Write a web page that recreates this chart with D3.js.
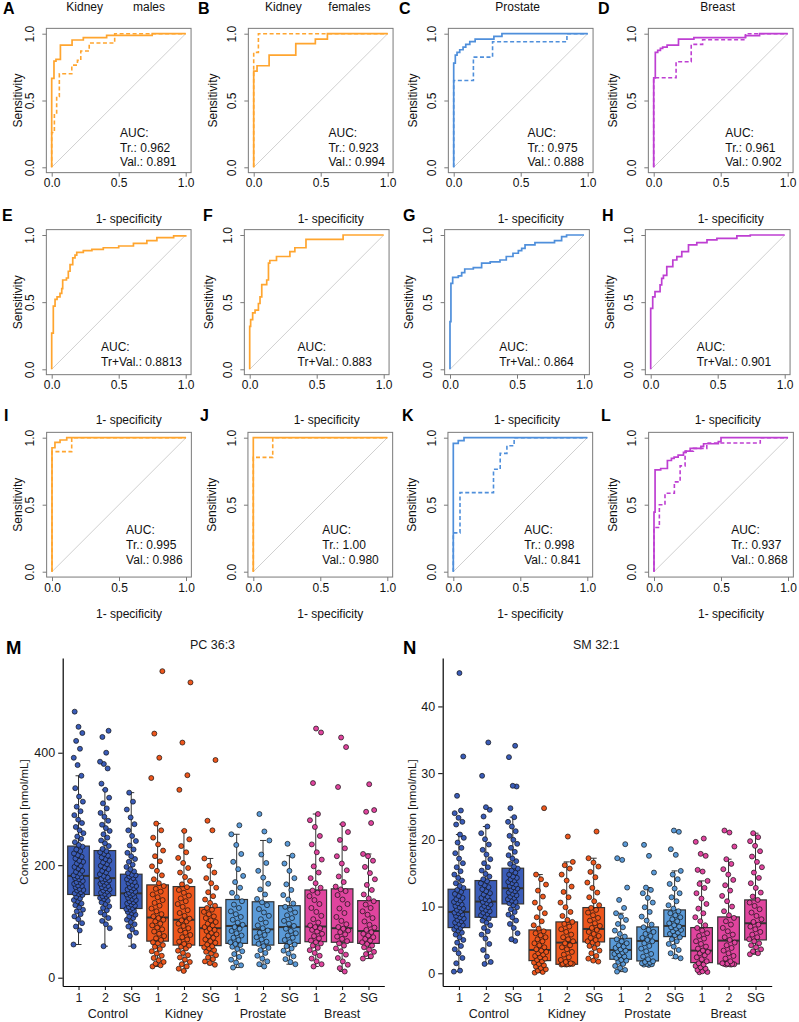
<!DOCTYPE html>
<html><head><meta charset="utf-8">
<script src="https://cdn.jsdelivr.net/npm/d3@7"></script>
<style>
body{margin:0;background:#fff}
svg text{font-family:"Liberation Sans",Arial,Helvetica,sans-serif}
</style>
</head><body>
<svg id="c" width="799" height="1022"></svg>
<script>
// ---------------- ROC data ([1-specificity, sensitivity] corner points) ----------------
const rocA_tr  = [[0,0],[0,0.666],[0.017,0.795],[0.032,0.808],[0.065,0.915],[0.152,0.953],[0.236,0.97],[0.41,0.988],[0.75,1],[1,1]];
const rocA_val = [[0,0],[0,0.26],[0.02,0.40],[0.037,0.53],[0.057,0.70],[0.15,0.765],[0.192,0.80],[0.217,0.87],[0.28,0.93],[0.47,1],[1,1]];
const rocB_tr  = [[0,0],[0,0.72],[0.025,0.76],[0.115,0.84],[0.314,0.925],[0.46,0.96],[0.55,1],[1,1]];
const rocB_val = [[0,0],[0,0.86],[0.035,1],[1,1]];
const rocC_tr  = [[0,0],[0,0.78],[0.012,0.84],[0.025,0.86],[0.045,0.88],[0.07,0.90],[0.09,0.92],[0.12,0.94],[0.16,0.96],[0.3,0.98],[0.36,1],[1,1]];
const rocC_val = [[0,0],[0,0.65],[0.147,0.825],[0.29,0.94],[0.845,1],[1,1]];
const rocD_tr  = [[0,0],[0,0.67],[0.012,0.86],[0.03,0.875],[0.05,0.89],[0.067,0.90],[0.1,0.915],[0.185,0.96],[0.3,0.97],[0.685,0.985],[0.79,1],[1,1]];
const rocD_val = [[0,0],[0,0.67],[0.167,0.79],[0.28,0.92],[0.365,0.955],[0.685,1],[1,1]];
const rocE = [[0,0],[0,0.27],[0.012,0.47],[0.025,0.52],[0.04,0.54],[0.062,0.565],[0.075,0.60],[0.082,0.665],[0.11,0.68],[0.124,0.73],[0.137,0.78],[0.157,0.83],[0.174,0.85],[0.187,0.87],[0.236,0.883],[0.3,0.893],[0.385,0.905],[0.5,0.918],[0.61,0.938],[0.71,0.958],[0.785,0.98],[0.91,0.993],[1,1]];
const rocF = [[0,0],[0,0.32],[0.007,0.37],[0.022,0.42],[0.04,0.44],[0.065,0.49],[0.077,0.54],[0.09,0.63],[0.127,0.665],[0.14,0.79],[0.15,0.81],[0.2,0.84],[0.3,0.876],[0.337,0.905],[0.42,0.968],[0.697,1],[1,1]];
const rocG = [[0,0],[0,0.355],[0.007,0.64],[0.02,0.685],[0.062,0.695],[0.087,0.72],[0.11,0.747],[0.174,0.757],[0.236,0.79],[0.3,0.80],[0.373,0.814],[0.42,0.84],[0.47,0.864],[0.51,0.883],[0.535,0.90],[0.56,0.926],[0.634,0.943],[0.78,0.958],[0.833,0.988],[0.87,1],[1,1]];
const rocH = [[0,0],[0,0.454],[0.015,0.54],[0.032,0.578],[0.07,0.628],[0.082,0.677],[0.095,0.70],[0.12,0.764],[0.165,0.814],[0.195,0.839],[0.232,0.876],[0.282,0.926],[0.344,0.943],[0.42,0.963],[0.494,0.975],[0.643,0.993],[0.743,1],[1,1]];
const rocI_tr  = [[0,0],[0,0.925],[0.022,0.965],[0.06,0.983],[0.11,1],[1,1]];
const rocI_val = [[0,0],[0,0.896],[0.147,1],[1,1]];
const rocJ_tr  = [[0,0],[0,1],[1,1]];
const rocJ_val = [[0,0],[0,0.853],[0.145,1],[1,1]];
const rocK_tr  = [[0,0],[0,0.958],[0.037,0.978],[0.08,1],[1,1]];
const rocK_val = [[0,0],[0,0.29],[0.05,0.59],[0.3,0.764],[0.35,0.883],[0.4,0.94],[0.454,1],[1,1]];
const rocL_tr  = [[0,0],[0,0.445],[0.008,0.76],[0.05,0.77],[0.1,0.83],[0.13,0.845],[0.15,0.855],[0.18,0.87],[0.22,0.89],[0.24,0.90],[0.27,0.92],[0.35,0.935],[0.37,0.955],[0.48,0.97],[0.5,1],[1,1]];
const rocL_val = [[0,0],[0,0.33],[0.04,0.5],[0.082,0.585],[0.152,0.67],[0.195,0.79],[0.232,0.9],[0.294,0.92],[0.394,0.96],[0.793,1],[1,1]];

const rocLetters = ["A","B","C","D","E","F","G","H","I","J","K","L"];
const rocTitles = ["Kidney         males","Kidney        females","Prostate","Breast"];
const rocXLabel = "1- specificity";
const rocYLabel = "Sensitivity";
const rocTicks = [0, 0.5, 1];
const aucLabels = [
  ["AUC:","Tr.: 0.962","Val.: 0.891"],["AUC:","Tr.: 0.923","Val.: 0.994"],["AUC:","Tr.: 0.975","Val.: 0.888"],["AUC:","Tr.: 0.961","Val.: 0.902"],
  ["AUC:","Tr+Val.: 0.8813"],["AUC:","Tr+Val.: 0.883"],["AUC:","Tr+Val.: 0.864"],["AUC:","Tr+Val.: 0.901"],
  ["AUC:","Tr.: 0.995","Val.: 0.986"],["AUC:","Tr.: 1.00","Val.: 0.980"],["AUC:","Tr.: 0.998","Val.: 0.841"],["AUC:","Tr.: 0.937","Val.: 0.868"]
];
const aucX = [0.51,0.558,0.55,0.534, 0.368,0.357,0.368,0.344, 0.553,0.515,0.529,0.576];

// ---------------- Box plot data ----------------
const boxCats = ["Control 1","Control 2","Control SG","Kidney 1","Kidney 2","Kidney SG","Prostate 1","Prostate 2","Prostate SG","Breast 1","Breast 2","Breast SG"];
const boxTickLabels = ["1","2","SG","1","2","SG","1","2","SG","1","2","SG"];
const groupNames = ["Control","Kidney","Prostate","Breast"];

// PC 36:3 (nmol/mL): box statistics
const pcLo  = [59,56,56,20,12,23,18,20,24,20,11,34];
const pcQ1  = [148,146,123,65,58,57,61,58,61,64,63,61];
const pcMed = [181,177,150,107,103,88,92,86,90,91,88,83];
const pcQ3  = [234,226,184,165,162,125,139,135,128,156,158,137];
const pcHi  = [359,334,329,274,261,212,255,244,217,291,273,220];
const pcTicks = [0,200,400];
// PC 36:3 individual points
const pc_C1 = [59,84,91,97,104,109,113,118,121,125,129,132,136,138,141,144,147,149,150,152,155,156,158,161,163,164,167,169,170,172,175,177,179,180,182,185,188,190,194,197,199,203,206,208,212,215,218,221,225,228,233,236,241,247,251,257,262,268,275,281,289,296,304,313,322,337,359,378,391,407,421,435,446,473];
const pc_C2 = [56,88,95,101,106,112,116,120,124,127,131,134,137,140,142,144,145,147,149,151,153,155,157,159,161,163,165,167,169,171,173,175,176,178,181,184,187,190,193,196,199,202,205,208,211,214,217,220,223,225,229,234,239,244,249,255,261,266,272,279,286,293,301,310,320,334,345,372,380,384,400,428,439];
const pc_CSG = [56,74,80,86,91,95,99,103,106,109,112,115,117,119,121,122,124,126,128,130,132,134,136,138,140,142,144,146,148,149,151,153,155,157,159,161,163,165,168,170,172,175,177,180,182,183,186,189,193,197,201,206,211,216,222,228,235,243,252,262,273,285,299,313,329];
const pc_K1 = [20,22,25,28,31,35,39,43,47,51,55,58,61,63,67,70,74,78,82,86,89,93,96,100,103,106,109,113,118,123,128,133,138,143,148,153,158,163,168,175,182,190,198,207,216,226,237,249,262,274,355,391,434,545];
const pc_K2 = [12,16,20,24,28,32,36,40,44,48,52,55,57,60,64,68,72,76,80,84,88,92,96,100,102,105,110,115,120,126,131,136,141,146,151,156,161,166,172,179,187,195,204,213,223,234,246,261,334,360,418,525];
const pc_KSG = [23,26,29,33,36,40,43,46,49,52,54,56,59,62,65,68,71,74,77,80,83,85,87,90,93,96,99,102,106,109,113,117,121,124,128,133,139,145,152,160,168,177,187,199,212,262,279,387];
const pc_P1 = [18,22,27,32,37,42,47,51,55,58,60,63,67,71,75,79,83,87,90,94,98,103,108,113,118,124,130,136,143,151,160,170,181,193,206,220,236,255,271];
const pc_P2 = [20,24,29,34,39,44,49,53,56,60,64,68,72,76,80,84,88,93,98,104,110,116,122,129,134,140,148,157,167,178,190,204,219,244,260,291];
const pc_PSG = [24,28,33,38,43,48,52,56,59,63,67,71,75,79,83,87,92,96,101,106,111,116,121,126,132,139,147,156,166,177,190,203,217,238];
const pc_B1 = [20,24,29,34,39,44,49,53,57,61,63,66,70,74,78,82,85,88,90,93,98,104,110,117,124,131,138,145,151,155,160,168,177,187,198,210,223,237,252,268,280,291,346,436,443];
const pc_B2 = [11,17,23,29,35,41,47,52,57,61,65,69,73,77,81,84,87,90,95,101,108,115,123,131,139,147,154,157,162,170,180,191,203,216,230,245,259,273,339,410,427];
const pc_BSG = [34,38,42,46,50,54,57,60,63,66,69,72,75,78,81,85,89,94,100,106,112,118,124,130,136,141,148,156,165,175,186,197,208,216,220,275,295,298,344];

// SM 32:1 (nmol/mL): box statistics
const smLo  = [0.25,1.4,4.85,0.1,1.3,1.75,0.25,1.25,2.25,0.15,1.3,2.85];
const smQ1  = [6.85,8.4,10.4,1.9,1.35,4.7,2.1,1.85,5.5,1.6,1.4,5.0];
const smMed = [9.2,10.75,12.75,3.5,4.6,6.65,3.5,4.85,7.1,3.4,4.9,7.5];
const smQ3  = [12.6,13.9,15.75,6.5,7.7,9.85,5.25,6.95,9.5,6.85,8.45,11.0];
const smHi  = [20.8,22.0,23.4,14.8,16.7,17.25,9.0,12.85,15.35,13.85,17.1,21.0];
const smTicks = [0,10,20,30,40];
// SM 32:1 individual points
const sm_C1 = [0.25,0.4,1.5,2.3,3.0,3.6,4.1,4.6,5.0,5.4,5.8,6.1,6.4,6.6,6.8,7.0,7.2,7.4,7.6,7.8,8.0,8.2,8.4,8.6,8.8,9.0,9.1,9.3,9.5,9.7,9.9,10.1,10.3,10.5,10.7,10.9,11.1,11.3,11.6,11.9,12.2,12.5,12.8,13.1,13.5,13.9,14.3,14.8,15.3,15.9,16.5,17.2,18.0,18.8,19.6,20.3,20.8,22.3,22.7,23.3,24.0,24.4,26.6,32.5,45];
const sm_C2 = [1.4,1.7,2.5,3.5,4.4,5.2,5.8,6.3,6.8,7.2,7.6,7.9,8.2,8.5,8.7,8.9,9.1,9.3,9.5,9.7,9.9,10.1,10.3,10.5,10.7,10.9,11.1,11.3,11.5,11.8,12.0,12.3,12.6,12.9,13.2,13.5,13.8,14.1,14.5,14.9,15.4,15.9,16.5,17.1,17.8,18.5,19.3,20.1,21.0,22.0,23.5,24.5,24.9,29.6,34.6];
const sm_CSG = [4.85,5.1,6.0,6.8,7.4,7.9,8.4,8.8,9.2,9.6,9.9,10.2,10.5,10.7,10.9,11.1,11.3,11.5,11.7,11.9,12.1,12.3,12.5,12.7,12.9,13.1,13.3,13.5,13.7,13.9,14.1,14.3,14.5,14.8,15.1,15.4,15.7,16.0,16.4,16.8,17.2,17.7,18.2,18.8,19.4,20.0,20.6,21.3,22.0,22.7,23.4,24.75,28,28.1,32.4,34.1];
const sm_K1 = [0.1,0.2,0.4,0.6,0.8,1.0,1.2,1.4,1.6,1.8,2.0,2.2,2.4,2.6,2.8,3.0,3.2,3.4,3.6,3.9,4.2,4.5,4.8,5.1,5.4,5.7,6.0,6.3,6.7,7.2,7.8,8.4,9.0,9.8,10.6,11.5,12.4,13.3,14.1,14.8,24.75];
const sm_K2 = [1.3,1.3,1.35,1.35,1.4,1.4,1.4,1.5,1.7,2.0,2.4,2.8,3.2,3.6,3.9,4.2,4.5,4.8,5.1,5.4,5.8,6.2,6.6,7.0,7.4,7.7,8.0,8.6,9.2,9.9,10.6,11.4,12.2,13.0,13.9,14.8,15.7,16.2,16.7,20.5];
const sm_KSG = [1.75,1.9,2.2,2.6,3.0,3.4,3.8,4.1,4.4,4.6,4.8,5.0,5.3,5.6,5.9,6.2,6.5,6.8,7.1,7.5,7.9,8.3,8.7,9.1,9.5,9.8,10.2,10.8,11.4,12.1,12.8,13.6,14.4,15.2,16.0,16.6,17.25,21.25];
const sm_P1 = [0.25,0.5,0.8,1.1,1.4,1.7,1.9,2.0,2.3,2.5,2.7,2.9,3.1,3.3,3.4,3.6,3.8,4.0,4.2,4.5,4.8,5.1,5.5,5.9,6.4,6.9,7.4,8.0,8.5,9.0,9.8,11.0,12.85,17.0,17.25,19.35];
const sm_P2 = [1.25,1.3,1.35,1.4,1.5,1.6,1.7,1.8,2.1,2.5,2.9,3.3,3.7,4.1,4.5,4.8,5.0,5.3,5.6,5.9,6.2,6.5,6.9,7.3,7.9,8.5,9.2,9.9,10.6,11.3,12.0,12.5,12.85,15.1,17.6,19.25];
const sm_PSG = [2.25,2.5,3.0,3.5,4.0,4.4,4.8,5.1,5.4,5.7,5.9,6.1,6.3,6.5,6.7,6.9,7.0,7.2,7.5,7.8,8.1,8.4,8.7,9.0,9.3,9.7,10.2,10.8,11.4,12.0,12.7,13.4,14.1,14.8,15.35,17.75,18.6,21.2,21.4];
const sm_B1 = [0.15,0.2,0.3,0.5,0.7,0.9,1.1,1.3,1.5,1.8,2.1,2.4,2.7,3.0,3.2,3.4,3.7,4.0,4.4,4.8,5.2,5.6,6.0,6.4,6.8,7.2,7.8,8.4,9.0,9.7,10.4,11.2,12.0,12.8,13.4,13.85,15.25,15.5,17.6,17.9,19.7,20.2];
const sm_B2 = [1.3,1.3,1.35,1.35,1.4,1.4,1.45,1.5,1.8,2.2,2.6,3.0,3.4,3.8,4.2,4.6,5.0,5.4,5.8,6.3,6.8,7.3,7.8,8.3,8.7,9.3,10.0,10.8,11.6,12.4,13.2,14.0,14.8,15.6,16.4,17.1,19.0,21.1,21.4];
const sm_BSG = [2.85,3.0,3.3,3.6,3.9,4.2,4.5,4.8,5.1,5.4,5.8,6.2,6.6,7.0,7.3,7.7,8.1,8.6,9.1,9.6,10.1,10.6,11.0,11.5,12.1,12.8,13.5,14.3,15.1,15.9,16.7,17.5,18.3,19.1,19.8,20.4,21.0];

// ---------------- styles / layout ----------------
const rocColors = ["#FFA52F","#FFA52F","#4F8FDB","#BE3FD2"];
const groupColors = ["#3A5CB8","#EE561C","#5A9AD8","#E0449E"];
const panelX0 = [[51.7,253.7,453.7,653.7],[51.7,249.7,450,650.7],[52,253.3,453.3,654]];
const panelY = [[167.3,33.7],[369.3,235],[571.7,437.7]];
const dataW = 134;
const aucBase = [[137,151.5,166],[351,366],[534,549,564]];
const xlabBase = [223,424,618];
const letterPos = [[3,198,399,598],[2,203,403,602],[4,200,402,601]];
const letterBase = [14,221,421];

const svg = d3.select("#c");
const FONT = "'Liberation Sans', Arial, Helvetica, sans-serif";

const rocTrain = [rocA_tr,rocB_tr,rocC_tr,rocD_tr,rocE,rocF,rocG,rocH,rocI_tr,rocJ_tr,rocK_tr,rocL_tr];
const rocValid = [rocA_val,rocB_val,rocC_val,rocD_val,null,null,null,null,rocI_val,rocJ_val,rocK_val,rocL_val];

rocLetters.forEach((letter, p) => {
  const r = Math.floor(p/4), c = p % 4;
  const x0 = panelX0[r][c];
  const x = d3.scaleLinear().domain([0,1]).range([x0, x0 + dataW]);
  const y = d3.scaleLinear().domain([0,1]).range(panelY[r]);
  const col = rocColors[c];
  const g = svg.append("g");

  g.append("rect")
    .attr("x", x(-0.04)).attr("y", y(1.04))
    .attr("width", x(1.04) - x(-0.04)).attr("height", y(-0.04) - y(1.04))
    .attr("fill","none").attr("stroke","#7a7a7a").attr("stroke-width",1);
  g.append("line").attr("x1",x(0)).attr("y1",y(0)).attr("x2",x(1)).attr("y2",y(1))
    .attr("stroke","#c4c4c4").attr("stroke-width",0.8);

  const line = d3.line().x(d => x(d[0])).y(d => y(d[1])).curve(d3.curveStepAfter);
  if (rocValid[p]) {
    g.append("path").attr("d", line(rocValid[p])).attr("fill","none")
      .attr("stroke",col).attr("stroke-width",1.6).attr("stroke-dasharray","4,2.5");
  }
  g.append("path").attr("d", line(rocTrain[p])).attr("fill","none")
    .attr("stroke",col).attr("stroke-width",1.7);

  const ax = g.append("g").attr("transform",`translate(0,${y(-0.04)})`)
    .call(d3.axisBottom(x).tickValues(rocTicks).tickFormat(d3.format(".1f")).tickSize(4).tickPadding(2));
  ax.select(".domain").remove();
  ax.selectAll(".tick line").attr("stroke","#7a7a7a");
  ax.selectAll("text").attr("font-size",12).attr("font-family",FONT).attr("fill","#111");

  const ay = g.append("g").attr("transform",`translate(${x(-0.04)},0)`)
    .call(d3.axisLeft(y).tickValues(rocTicks).tickFormat(d3.format(".1f")).tickSize(4));
  ay.select(".domain").remove();
  ay.selectAll(".tick line").attr("stroke","#7a7a7a");
  ay.selectAll("text").attr("x",0).attr("dy",0).attr("y",-12.3)
    .attr("transform","rotate(-90)").attr("text-anchor","middle")
    .attr("font-size",12).attr("font-family",FONT).attr("fill","#111");

  const ylx = x(-0.04) - (c === 0 ? 24.7 : 31.7);
  g.append("text").attr("transform",`translate(${ylx},${(y(0)+y(1))/2}) rotate(-90)`)
    .attr("text-anchor","middle").attr("font-size",12).attr("fill","#111").text(rocYLabel);

  g.append("text").attr("x", x(0.5) + 10).attr("y", xlabBase[r])
    .attr("text-anchor","middle").attr("font-size",12).attr("fill","#111").text(rocXLabel);

  if (r === 0) {
    g.append("text").attr("x", x(0.5) - 3).attr("y", 11.3)
      .attr("text-anchor","middle").attr("font-size",12).attr("fill","#111")
      .style("white-space","pre").text(rocTitles[c]);
  }

  aucLabels[p].forEach((t, k) => {
    g.append("text").attr("x", x(aucX[p])).attr("y", aucBase[r][k])
      .attr("font-size",12).attr("fill","#111").text(t);
  });

  svg.append("text").attr("x", letterPos[r][c]).attr("y", letterBase[r])
    .attr("font-size",16).attr("font-weight","bold").attr("fill","#000").text(letter);
});

// ---------------- Box plots ----------------
function boxPanel(cfg) {
  const g = svg.append("g");
  const xs = d3.scalePoint().domain(boxCats).range(cfg.xr).padding(0.6);
  const ys = d3.scaleLinear().domain(cfg.yd).range([986, 658]);
  const half = 10.8;

  boxCats.forEach((cat, i) => {
    const cx = xs(cat), col = groupColors[Math.floor(i/3)];
    g.append("line").attr("x1",cx).attr("x2",cx).attr("y1",ys(cfg.lo[i])).attr("y2",ys(cfg.hi[i]))
      .attr("stroke","#333").attr("stroke-width",1);
    [cfg.lo[i], cfg.hi[i]].forEach(v => {
      g.append("line").attr("x1",cx-3).attr("x2",cx+3).attr("y1",ys(v)).attr("y2",ys(v))
        .attr("stroke","#333").attr("stroke-width",1);
    });
    g.append("rect").attr("x",cx-half).attr("y",ys(cfg.q3[i]))
      .attr("width",2*half).attr("height",ys(cfg.q1[i]) - ys(cfg.q3[i]))
      .attr("fill",col).attr("stroke","#333").attr("stroke-width",1.2);
    g.append("line").attr("x1",cx-half).attr("x2",cx+half).attr("y1",ys(cfg.med[i])).attr("y2",ys(cfg.med[i]))
      .attr("stroke","#333").attr("stroke-width",2);
  });
  boxCats.forEach((cat, i) => {
    const cx = xs(cat), col = groupColors[Math.floor(i/3)];
    const jw = i < 3 ? 10 : 13;
    g.selectAll(null).data(cfg.pts[i]).enter().append("circle")
      .attr("cx", (d, k) => cx + (((k * 0.618034 + i * 0.37) % 1) - 0.5) * jw)
      .attr("cy", d => ys(d))
      .attr("r", 2.5).attr("fill", col).attr("stroke","#111").attr("stroke-width",0.7);
  });

  const ay = g.append("g").attr("transform",`translate(${cfg.xr[0]},0)`)
    .call(d3.axisLeft(ys).tickValues(cfg.ticks).tickSize(4.5).tickSizeOuter(0).tickPadding(3));
  ay.select(".domain").attr("stroke","#000").attr("stroke-width",1.2);
  ay.selectAll(".tick line").attr("stroke","#000");
  ay.selectAll("text").attr("font-size",12.5).attr("font-family",FONT).attr("fill","#1a1a1a");

  const ax = g.append("g").attr("transform","translate(0,986)")
    .call(d3.axisBottom(xs).tickSize(4).tickSizeOuter(0).tickPadding(3).tickFormat((d,i) => boxTickLabels[i]));
  ax.select(".domain").attr("stroke","#000").attr("stroke-width",1.2);
  ax.selectAll(".tick line").attr("stroke","#000");
  ax.selectAll("text").attr("font-size",12.5).attr("font-family",FONT).attr("fill","#1a1a1a");

  groupNames.forEach((name, j) => {
    g.append("text").attr("x", xs(boxCats[j*3+1]) + (j === 0 ? 3 : 0)).attr("y", 1017.5)
      .attr("text-anchor","middle").attr("font-size",12.5).attr("fill","#1a1a1a").text(name);
  });

  g.append("text").attr("transform",`translate(${cfg.ylx},822) rotate(-90)`)
    .attr("text-anchor","middle").attr("font-size",11.5).attr("fill","#1a1a1a").text("Concentration [nmol/mL]");
  g.append("text").attr("x", (cfg.xr[0]+cfg.xr[1])/2 - 11).attr("y", 649)
    .attr("text-anchor","middle").attr("font-size",12.5).attr("fill","#1a1a1a").text(cfg.title);
  svg.append("text").attr("x", cfg.lx).attr("y", 654)
    .attr("font-size",18.5).attr("font-weight","bold").attr("fill","#000").text(cfg.letter);
}

boxPanel({
  xr:[62.7,384.3], yd:[-14.76,568.4], ticks:pcTicks,
  lo:pcLo, q1:pcQ1, med:pcMed, q3:pcQ3, hi:pcHi,
  pts:[pc_C1,pc_C2,pc_CSG,pc_K1,pc_K2,pc_KSG,pc_P1,pc_P2,pc_PSG,pc_B1,pc_B2,pc_BSG],
  title:"PC 36:3", letter:"M", lx:6, ylx:27.5
});
boxPanel({
  xr:[442.7,771.7], yd:[-1.905,47.26], ticks:smTicks,
  lo:smLo, q1:smQ1, med:smMed, q3:smQ3, hi:smHi,
  pts:[sm_C1,sm_C2,sm_CSG,sm_K1,sm_K2,sm_KSG,sm_P1,sm_P2,sm_PSG,sm_B1,sm_B2,sm_BSG],
  title:"SM 32:1", letter:"N", lx:403, ylx:415.5
});
</script>
</body></html>
